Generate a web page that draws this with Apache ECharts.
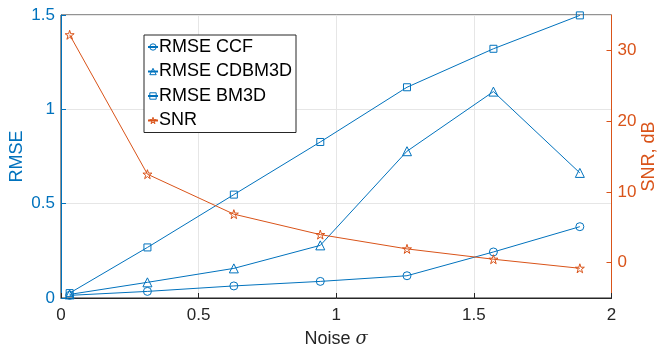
<!DOCTYPE html>
<html><head><meta charset="utf-8">
<script src="https://cdn.jsdelivr.net/npm/echarts@6/dist/echarts.min.js"></script>
<style>html,body{margin:0;padding:0;background:#fff}#c{width:657px;height:352px}</style>
</head><body><div id="c"></div>
<script>
const noiseSigma = [0.0314, 0.314, 0.628, 0.942, 1.257, 1.571, 1.885];
const rmseCCF = [0.014, 0.035, 0.064, 0.088, 0.118, 0.244, 0.378];
const rmseCDBM3D = [0.019, 0.083, 0.157, 0.279, 0.778, 1.094, 0.663];
const rmseBM3D = [0.026, 0.268, 0.548, 0.827, 1.117, 1.321, 1.498];
const snrDb = [32.2, 12.5, 6.85, 3.96, 1.94, 0.48, -0.8];
const seriesNames = ['RMSE CCF', 'RMSE CDBM3D', 'RMSE BM3D', 'SNR'];
const snrTicks = [0, 10, 20, 30];

const BLUE = '#0072BD', ORANGE = '#D95319', DARK = '#262626';
const FONT = 'Liberation Sans, Arial, Helvetica, sans-serif';
const STAR = 'path://M50,0 L61.8,36.3 L100,36.3 L69.1,58.8 L80.9,95.1 L50,72.7 L19.1,95.1 L30.9,58.8 L0,36.3 L38.2,36.3 Z';

const pairs = ys => noiseSigma.map((x, i) => [x, ys[i]]);
function mk(name, ys, color, symbol, size, yIdx) {
  return {
    name, type: 'line', data: pairs(ys), yAxisIndex: yIdx,
    symbol, symbolSize: size, showSymbol: true,
    lineStyle: { color, width: 1 },
    itemStyle: { color: 'rgba(255,255,255,0)', borderColor: color, borderWidth: 1 },
    emphasis: { disabled: true }, animation: false, z: yIdx === 1 ? 3 : 2
  };
}
const legendItem = (name, color) => ({ name, itemStyle: { color: 'rgba(255,255,255,0)', borderColor: color, borderWidth: 1 } });

const chart = echarts.init(document.getElementById('c'));
chart.setOption({
  animation: false,
  textStyle: { fontFamily: FONT },
  grid: { left: 61, right: 45.5, top: 15, bottom: 54, containLabel: false, outerBoundsMode: 'none', show: true, borderColor: DARK, borderWidth: 1, backgroundColor: 'rgba(0,0,0,0)' },
  legend: {
    orient: 'vertical', left: 144, top: 35,
    data: [legendItem(seriesNames[0], BLUE), legendItem(seriesNames[1], BLUE), legendItem(seriesNames[2], BLUE), legendItem(seriesNames[3], ORANGE)],
    borderColor: DARK, borderWidth: 1, backgroundColor: '#fff',
    padding: [3, 4, 3, 3], itemGap: 6.5, itemWidth: 10, itemHeight: 8,
    textStyle: { fontSize: 18, color: '#000', fontFamily: FONT, padding: [0, 0, 0, -4] },
    selectedMode: false
  },
  xAxis: {
    type: 'value', min: 0, max: 2, interval: 0.5,
    name: 'Noise {i|σ}', nameLocation: 'middle', nameGap: 32, nameMoveOverlap: false,
    nameTextStyle: { fontSize: 18, color: DARK, rich: { i: { fontStyle: 'italic', fontSize: 18, fontFamily: 'DejaVu Serif, serif', color: DARK } } },
    axisLine: { lineStyle: { color: DARK } },
    axisTick: { inside: true, length: 5, lineStyle: { color: DARK } },
    axisLabel: { fontSize: 17, color: DARK, margin: 9 },
    splitLine: { show: true, lineStyle: { color: '#e6e6e6' } }
  },
  yAxis: [{
    type: 'value', min: 0, max: 1.5, interval: 0.5, position: 'left',
    name: 'RMSE', nameLocation: 'middle', nameGap: 35, nameMoveOverlap: false,
    nameTextStyle: { fontSize: 18, color: BLUE },
    axisLine: { show: true, lineStyle: { color: BLUE } },
    axisTick: { show: true, inside: true, length: 5, lineStyle: { color: BLUE } },
    axisLabel: { fontSize: 17, color: BLUE, margin: 6 },
    splitLine: { show: true, lineStyle: { color: '#e6e6e6' } }
  }, {
    type: 'value', min: -5, max: 35, position: 'right',
    name: 'SNR, dB', nameLocation: 'middle', nameGap: 29, nameRotate: 90, nameMoveOverlap: false,
    nameTextStyle: { fontSize: 18, color: ORANGE },
    axisLine: { show: true, lineStyle: { color: ORANGE } },
    axisTick: { show: true, inside: true, length: 5, customValues: snrTicks, lineStyle: { color: ORANGE } },
    axisLabel: { fontSize: 17, color: ORANGE, margin: 6, customValues: snrTicks },
    splitLine: { show: false }
  }],
  series: [
    mk(seriesNames[0], rmseCCF, BLUE, 'circle', 8, 0),
    mk(seriesNames[1], rmseCDBM3D, BLUE, 'triangle', 9, 0),
    mk(seriesNames[2], rmseBM3D, BLUE, 'rect', 7, 0),
    mk(seriesNames[3], snrDb, ORANGE, STAR, 9, 1)
  ]
});
</script></body></html>
